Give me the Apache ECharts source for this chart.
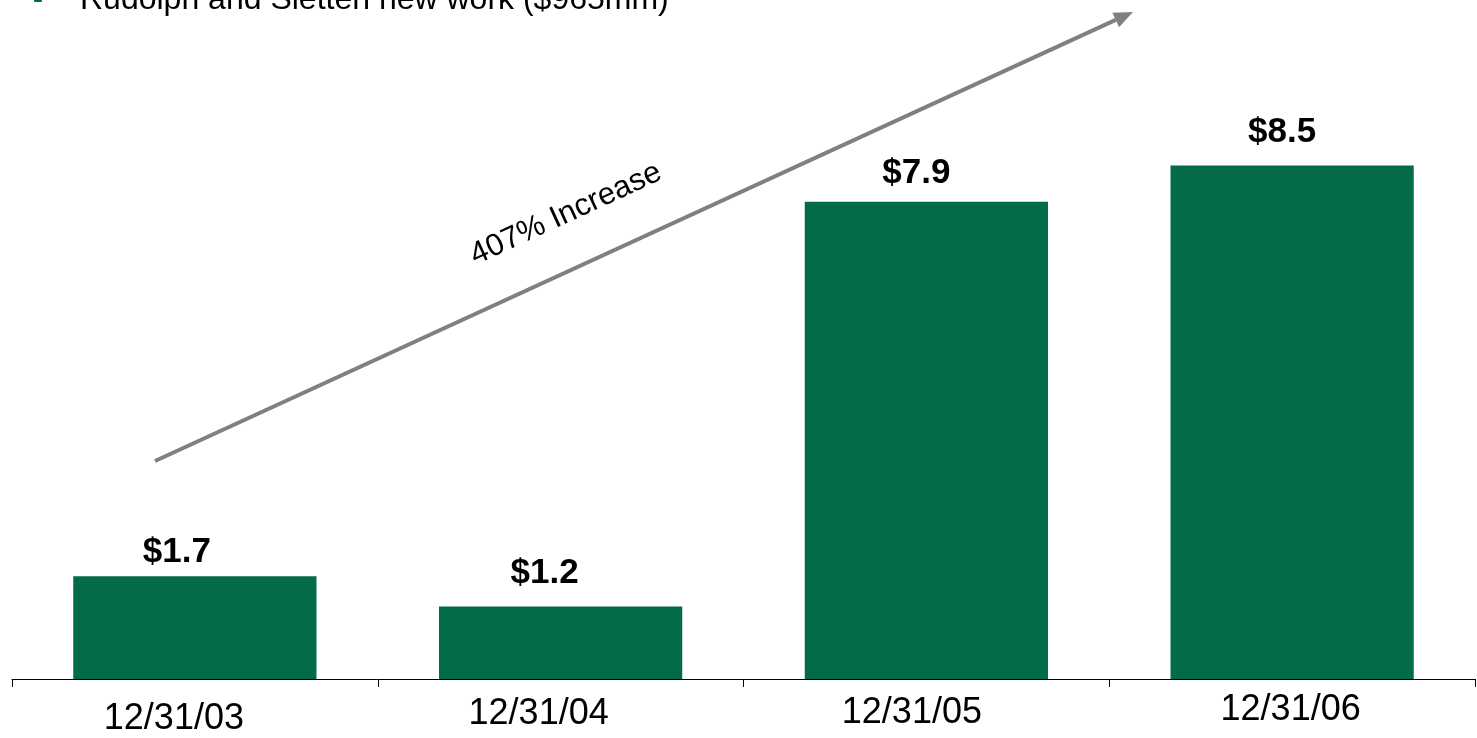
<!DOCTYPE html>
<html>
<head>
<meta charset="utf-8">
<script src="https://cdn.jsdelivr.net/npm/echarts@6/dist/echarts.min.js"></script>
<style>
  html, body { margin: 0; padding: 0; background: #ffffff; }
  #chart { width: 1477px; height: 738px; }
</style>
</head>
<body>
<div id="chart"></div>
<script>
// Backlog by year-end, $ billions
const categories = ['12/31/03', '12/31/04', '12/31/05', '12/31/06'];
const backlog = [1.7, 1.2, 7.9, 8.5];
const headline = 'Rudolph and Sletten new work ($965mm)';
const growthNote = '407% Increase';

const GREEN = '#036B45';
const FONT = '"Liberation Sans", Arial, Helvetica, sans-serif';

// per-bar placement of the value labels: lift above the bar top, sideways nudge
const labelLift = [6, 16, 11, 16];
const labelNudge = [-18, -16, -10, -10];
// each date label sits at its own height / horizontal nudge
const dateStyles = [
  { padding: [14, 42, 0, 0] },
  { padding: [9, 44, 0, 0] },
  { padding: [8, 29, 0, 0] },
  { padding: [5, 3, 0, 0] }
];

const rich = {};
dateStyles.forEach((s, i) => {
  rich['d' + i] = { fontSize: 36, fontFamily: FONT, color: '#000', padding: s.padding };
});

// growth arrow running from the first bar up to the top right
const arrowFrom = [155, 461];
const arrowTo = [1133, 12];
const dx = arrowTo[0] - arrowFrom[0], dy = arrowTo[1] - arrowFrom[1];
const len = Math.sqrt(dx * dx + dy * dy);
const ux = dx / len, uy = dy / len;
const headLen = 19, headHalf = 8;
const base = [arrowTo[0] - headLen * ux, arrowTo[1] - headLen * uy];
const angle = Math.atan2(-dy, dx);

const chart = echarts.init(document.getElementById('chart'), null, { renderer: 'canvas' });
chart.setOption({
  animation: false,
  backgroundColor: '#ffffff',
  grid: { left: 12, right: 2, top: 75, bottom: 59 },
  xAxis: {
    type: 'category',
    data: categories,
    boundaryGap: true,
    axisLine: { lineStyle: { color: '#000', width: 1 } },
    axisTick: { show: true, length: 8, lineStyle: { color: '#000', width: 1 } },
    axisLabel: {
      margin: 8,
      interval: 0,
      formatter: (v, i) => '{d' + i + '|' + v + '}',
      rich: rich
    }
  },
  yAxis: { type: 'value', min: 0, max: 10, show: false, splitLine: { show: false } },
  series: [{
    type: 'bar',
    barWidth: '66.5%',
    itemStyle: { color: GREEN },
    data: backlog.map((v, i) => ({
      value: v,
      label: { distance: labelLift[i], offset: [labelNudge[i], 0] }
    })),
    label: {
      show: true,
      position: 'top',
      formatter: p => '$' + p.value.toFixed(1),
      fontFamily: FONT,
      fontWeight: 'bold',
      fontSize: 35,
      color: '#000'
    }
  }],
  graphic: [
    {
      type: 'text',
      x: 33, y: 0,
      style: { text: '-', fontSize: 30, fontFamily: FONT, fontWeight: 'bold', fill: GREEN, verticalAlign: 'middle', align: 'left' }
    },
    {
      type: 'text',
      x: 80, y: 0,
      style: { text: headline, fontSize: 32, fontFamily: FONT, fill: '#000', verticalAlign: 'middle', align: 'left' }
    },
    {
      type: 'line',
      shape: { x1: arrowFrom[0], y1: arrowFrom[1], x2: base[0], y2: base[1] },
      style: { stroke: '#808080', lineWidth: 4 }
    },
    {
      type: 'polygon',
      shape: {
        points: [
          arrowTo,
          [base[0] - headHalf * uy, base[1] + headHalf * ux],
          [base[0] + headHalf * uy, base[1] - headHalf * ux]
        ]
      },
      style: { fill: '#808080' }
    },
    {
      type: 'text',
      x: 566, y: 214,
      rotation: angle,
      style: { text: growthNote, fontSize: 31, fontFamily: FONT, fill: '#000', align: 'center', verticalAlign: 'middle' }
    }
  ]
});
</script>
</body>
</html>
